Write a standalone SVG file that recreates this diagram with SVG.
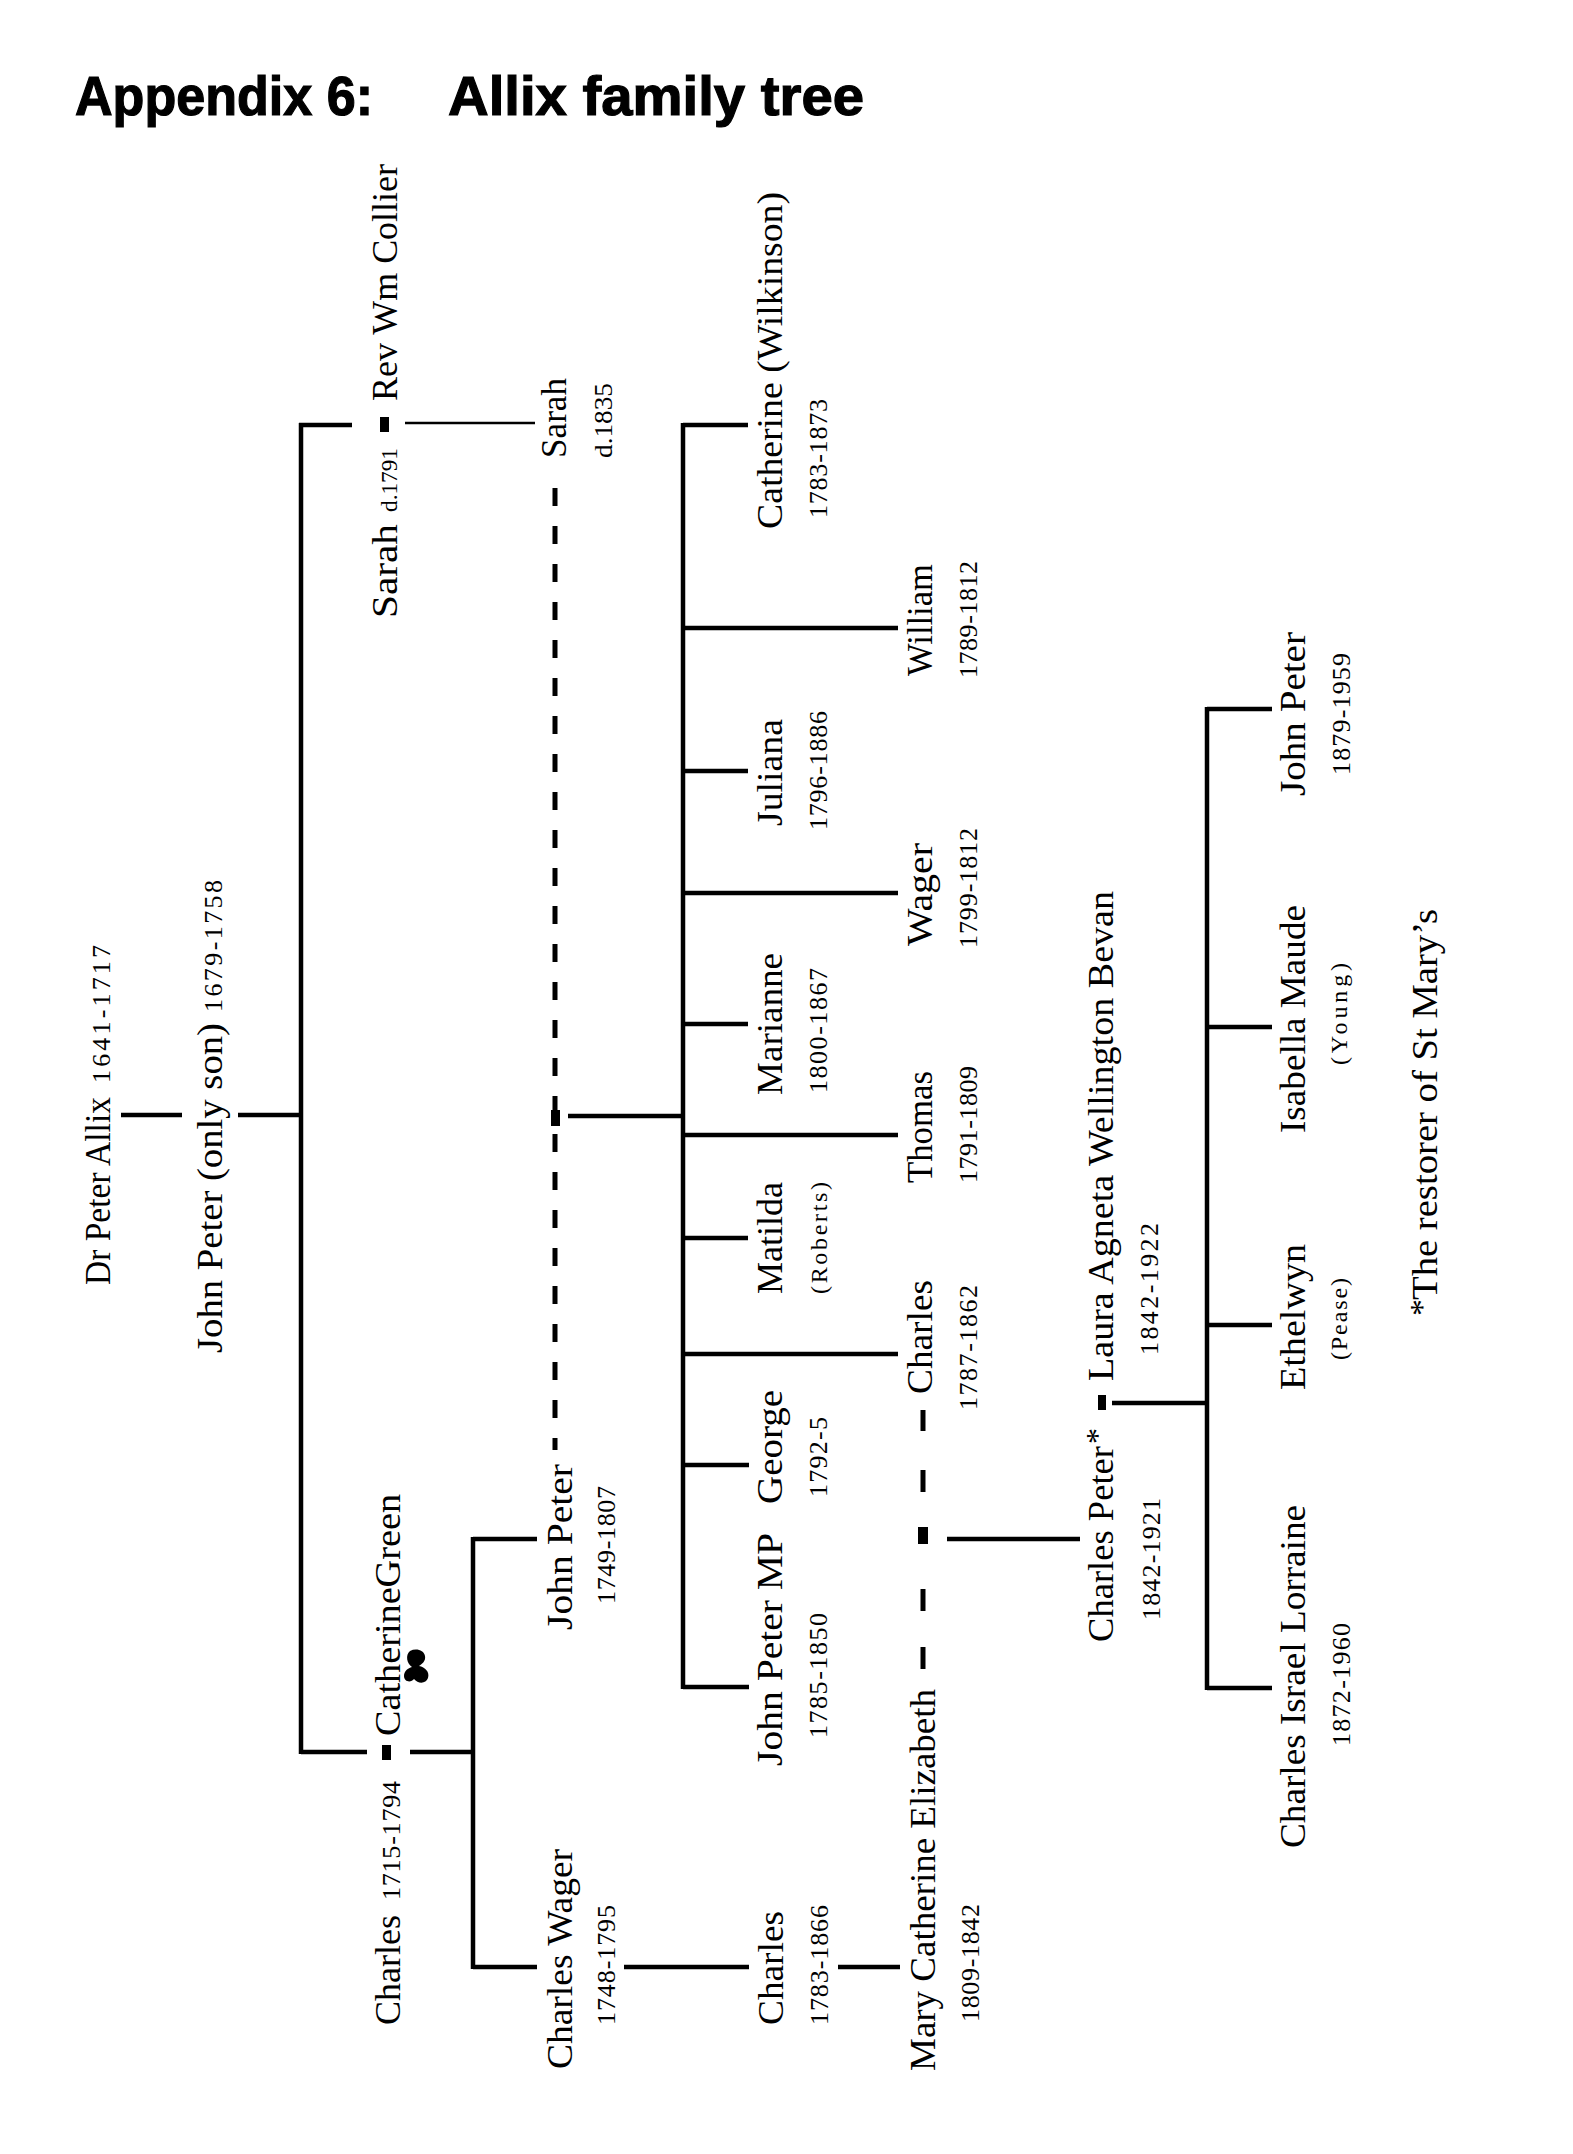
<svg xmlns="http://www.w3.org/2000/svg" width="1573" height="2154" viewBox="0 0 1573 2154">
<style>
text{font-family:"Liberation Serif","Times New Roman",serif;fill:#000}
.n{font-size:35px}
.d{font-size:26px}
.s{font-size:24px}
.t{font-family:"Liberation Sans",Arial,sans-serif;font-weight:bold;font-size:56px;stroke:#000;stroke-width:1.2}
.l{stroke:#000;stroke-width:4.5;fill:none;stroke-linecap:butt}
.th{stroke:#000;stroke-width:2.5;fill:none}
.dash{stroke:#000;stroke-width:5;fill:none;stroke-dasharray:18 20}
.m{fill:#000}
</style>
<rect width="1573" height="2154" fill="#fff"/>
<g id="title">
<text class="t" x="75" y="115" textLength="298" lengthAdjust="spacingAndGlyphs">Appendix 6:</text>
<text class="t" x="448" y="115" textLength="416" lengthAdjust="spacingAndGlyphs">Allix family tree</text>
</g>
<g id="connectors">
<line class="l" x1="121" y1="1115" x2="182" y2="1115"/>
<line class="l" x1="238" y1="1115" x2="301" y2="1115"/>
<line class="l" x1="301" y1="423" x2="301" y2="1754"/>
<line class="l" x1="299" y1="425" x2="352" y2="425"/>
<line class="th" x1="405" y1="423" x2="535" y2="423"/>
<line class="l" x1="301" y1="1752" x2="367" y2="1752"/>
<line class="l" x1="410" y1="1752" x2="473" y2="1752"/>
<line class="l" x1="473" y1="1537" x2="473" y2="1969"/>
<line class="l" x1="473" y1="1539" x2="537" y2="1539"/>
<line class="l" x1="473" y1="1967" x2="537" y2="1967"/>
<line class="l" x1="624" y1="1967" x2="749" y2="1967"/>
<line class="l" x1="838" y1="1967" x2="900" y2="1967"/>
<line class="dash" x1="555" y1="488" x2="555" y2="1450"/>
<rect class="m" x="551" y="1110" width="9" height="16"/>
<line class="l" x1="568" y1="1116" x2="683" y2="1116"/>
<line class="l" x1="683" y1="423" x2="683" y2="1689"/>
<line class="l" x1="683" y1="425" x2="748" y2="425"/>
<line class="l" x1="683" y1="771" x2="748" y2="771"/>
<line class="l" x1="683" y1="1024" x2="748" y2="1024"/>
<line class="l" x1="683" y1="1238" x2="748" y2="1238"/>
<line class="l" x1="683" y1="1465" x2="749" y2="1465"/>
<line class="l" x1="683" y1="1687" x2="749" y2="1687"/>
<line class="l" x1="683" y1="628" x2="898" y2="628"/>
<line class="l" x1="683" y1="893" x2="898" y2="893"/>
<line class="l" x1="683" y1="1135" x2="898" y2="1135"/>
<line class="l" x1="683" y1="1354" x2="898" y2="1354"/>
<g stroke="#000" stroke-width="5">
<line x1="923" y1="1410" x2="923" y2="1431"/>
<line x1="923" y1="1470" x2="923" y2="1492"/>
<line x1="923" y1="1589" x2="923" y2="1611"/>
<line x1="923" y1="1647" x2="923" y2="1669"/>
</g>
<rect class="m" x="918" y="1527" width="10" height="17"/>
<line class="l" x1="947" y1="1539" x2="1080" y2="1539"/>
<line class="l" x1="1112" y1="1403" x2="1207" y2="1403"/>
<line class="l" x1="1207" y1="707" x2="1207" y2="1690"/>
<line class="l" x1="1207" y1="709" x2="1272" y2="709"/>
<line class="l" x1="1207" y1="1027" x2="1272" y2="1027"/>
<line class="l" x1="1207" y1="1325" x2="1272" y2="1325"/>
<line class="l" x1="1207" y1="1688" x2="1272" y2="1688"/>
</g>
<g id="dr-peter-allix">
<text class="n" x="110" y="1285" transform="rotate(-90 110 1285)" textLength="188" lengthAdjust="spacingAndGlyphs">Dr Peter Allix</text>
<text class="d" x="110" y="1083" transform="rotate(-90 110 1083)" textLength="138">1641-1717</text>
</g>
<g id="john-peter-only-son">
<text class="n" x="222" y="1353" transform="rotate(-90 222 1353)" textLength="330" lengthAdjust="spacingAndGlyphs">John Peter (only son)</text>
<text class="d" x="222" y="1012" transform="rotate(-90 222 1012)" textLength="132">1679-1758</text>
</g>
<g id="sarah-collier">
<text class="n" x="397" y="618" transform="rotate(-90 397 618)" textLength="94" lengthAdjust="spacingAndGlyphs">Sarah</text>
<text class="s" x="397" y="512" transform="rotate(-90 397 512)" textLength="64" lengthAdjust="spacingAndGlyphs">d.1791</text>
<rect class="m" x="380" y="417" width="9" height="15"/>
<text class="n" x="397" y="401" transform="rotate(-90 397 401)" textLength="237" lengthAdjust="spacingAndGlyphs">Rev Wm Collier</text>
</g>
<g id="sarah-d1835">
<text class="n" x="566" y="458" transform="rotate(-90 566 458)" textLength="80" lengthAdjust="spacingAndGlyphs">Sarah</text>
<text class="d" x="612" y="458" transform="rotate(-90 612 458)" textLength="75" lengthAdjust="spacingAndGlyphs">d.1835</text>
</g>
<g id="charles-catherine-green">
<text class="n" x="400" y="2025" transform="rotate(-90 400 2025)" textLength="110" lengthAdjust="spacingAndGlyphs">Charles</text>
<text class="d" x="400" y="1900" transform="rotate(-90 400 1900)" textLength="119">1715-1794</text>
<rect class="m" x="382" y="1745" width="9" height="15"/>
<text class="n" x="400" y="1736" transform="rotate(-90 400 1736)" textLength="242" lengthAdjust="spacingAndGlyphs">CatherineGreen</text>
<path class="m" d="M410 1651 C416 1648 424 1650 425 1656 C426 1661 422 1664 419 1666 C425 1667 430 1672 428 1678 C426 1684 418 1684 414 1679 C411 1683 404 1682 404 1676 C404 1671 408 1668 412 1667 C407 1664 405 1655 410 1651 Z"/>
</g>
<g id="john-peter-1749">
<text class="n" x="572" y="1630" transform="rotate(-90 572 1630)" textLength="166" lengthAdjust="spacingAndGlyphs">John Peter</text>
<text class="d" x="615" y="1604" transform="rotate(-90 615 1604)" textLength="118">1749-1807</text>
</g>
<g id="charles-wager-1748">
<text class="n" x="572" y="2069" transform="rotate(-90 572 2069)" textLength="220" lengthAdjust="spacingAndGlyphs">Charles Wager</text>
<text class="d" x="615" y="2025" transform="rotate(-90 615 2025)" textLength="120">1748-1795</text>
</g>
<g id="charles-1783">
<text class="n" x="783" y="2025" transform="rotate(-90 783 2025)" textLength="114" lengthAdjust="spacingAndGlyphs">Charles</text>
<text class="d" x="828" y="2025" transform="rotate(-90 828 2025)" textLength="120">1783-1866</text>
</g>
<g id="mary-catherine-elizabeth">
<text class="n" x="935" y="2071" transform="rotate(-90 935 2071)" textLength="382" lengthAdjust="spacingAndGlyphs">Mary Catherine Elizabeth</text>
<text class="d" x="979" y="2022" transform="rotate(-90 979 2022)" textLength="118">1809-1842</text>
</g>
<g id="catherine-wilkinson">
<text class="n" x="782" y="529" transform="rotate(-90 782 529)" textLength="337" lengthAdjust="spacingAndGlyphs">Catherine (Wilkinson)</text>
<text class="d" x="827" y="518" transform="rotate(-90 827 518)" textLength="119">1783-1873</text>
</g>
<g id="william">
<text class="n" x="932" y="676" transform="rotate(-90 932 676)" textLength="112" lengthAdjust="spacingAndGlyphs">William</text>
<text class="d" x="977" y="678" transform="rotate(-90 977 678)" textLength="117">1789-1812</text>
</g>
<g id="juliana">
<text class="n" x="782" y="826" transform="rotate(-90 782 826)" textLength="107" lengthAdjust="spacingAndGlyphs">Juliana</text>
<text class="d" x="827" y="830" transform="rotate(-90 827 830)" textLength="119">1796-1886</text>
</g>
<g id="wager">
<text class="n" x="932" y="946" transform="rotate(-90 932 946)" textLength="103" lengthAdjust="spacingAndGlyphs">Wager</text>
<text class="d" x="977" y="948" transform="rotate(-90 977 948)" textLength="120">1799-1812</text>
</g>
<g id="marianne">
<text class="n" x="782" y="1095" transform="rotate(-90 782 1095)" textLength="142" lengthAdjust="spacingAndGlyphs">Marianne</text>
<text class="d" x="827" y="1093" transform="rotate(-90 827 1093)" textLength="125">1800-1867</text>
</g>
<g id="thomas">
<text class="n" x="932" y="1183" transform="rotate(-90 932 1183)" textLength="112" lengthAdjust="spacingAndGlyphs">Thomas</text>
<text class="d" x="977" y="1183" transform="rotate(-90 977 1183)" textLength="117">1791-1809</text>
</g>
<g id="matilda">
<text class="n" x="782" y="1294" transform="rotate(-90 782 1294)" textLength="112" lengthAdjust="spacingAndGlyphs">Matilda</text>
<text class="s" x="827" y="1294" transform="rotate(-90 827 1294)" textLength="112">(Roberts)</text>
</g>
<g id="charles-1787">
<text class="n" x="932" y="1394" transform="rotate(-90 932 1394)" textLength="114" lengthAdjust="spacingAndGlyphs">Charles</text>
<text class="d" x="977" y="1410" transform="rotate(-90 977 1410)" textLength="125">1787-1862</text>
</g>
<g id="george">
<text class="n" x="782" y="1504" transform="rotate(-90 782 1504)" textLength="114" lengthAdjust="spacingAndGlyphs">George</text>
<text class="d" x="827" y="1497" transform="rotate(-90 827 1497)" textLength="80">1792-5</text>
</g>
<g id="john-peter-mp">
<text class="n" x="782" y="1766" transform="rotate(-90 782 1766)" textLength="233" lengthAdjust="spacingAndGlyphs">John Peter MP</text>
<text class="d" x="827" y="1738" transform="rotate(-90 827 1738)" textLength="125">1785-1850</text>
</g>
<g id="charles-peter-laura">
<text class="n" x="1113" y="1642" transform="rotate(-90 1113 1642)" textLength="196" lengthAdjust="spacingAndGlyphs">Charles Peter</text>
<text x="1108" y="1444" transform="rotate(-90 1108 1444)" style="font-size:32px">*</text>
<text class="d" x="1160" y="1620" transform="rotate(-90 1160 1620)" textLength="122">1842-1921</text>
<rect class="m" x="1098" y="1395" width="8" height="15"/>
<text class="n" x="1113" y="1381" transform="rotate(-90 1113 1381)" textLength="490" lengthAdjust="spacingAndGlyphs">Laura Agneta Wellington Bevan</text>
<text class="d" x="1158" y="1355" transform="rotate(-90 1158 1355)" textLength="132">1842-1922</text>
</g>
<g id="john-peter-1879">
<text class="n" x="1305" y="796" transform="rotate(-90 1305 796)" textLength="164" lengthAdjust="spacingAndGlyphs">John Peter</text>
<text class="d" x="1350" y="775" transform="rotate(-90 1350 775)" textLength="122">1879-1959</text>
</g>
<g id="isabella-maude">
<text class="n" x="1305" y="1133" transform="rotate(-90 1305 1133)" textLength="228" lengthAdjust="spacingAndGlyphs">Isabella Maude</text>
<text class="s" x="1347" y="1065" transform="rotate(-90 1347 1065)" textLength="102">(Young)</text>
</g>
<g id="ethelwyn">
<text class="n" x="1305" y="1390" transform="rotate(-90 1305 1390)" textLength="146" lengthAdjust="spacingAndGlyphs">Ethelwyn</text>
<text class="s" x="1347" y="1360" transform="rotate(-90 1347 1360)" textLength="82">(Pease)</text>
</g>
<g id="charles-israel-lorraine">
<text class="n" x="1305" y="1848" transform="rotate(-90 1305 1848)" textLength="343" lengthAdjust="spacingAndGlyphs">Charles Israel Lorraine</text>
<text class="d" x="1350" y="1746" transform="rotate(-90 1350 1746)" textLength="123">1872-1960</text>
</g>
<g id="footnote">
<text x="1433" y="1316" transform="rotate(-90 1433 1316)" style="font-size:34px">*</text>
<text class="n" x="1437" y="1300" transform="rotate(-90 1437 1300)" textLength="391" lengthAdjust="spacingAndGlyphs">The restorer of St Mary’s</text>
</g>
</svg>
